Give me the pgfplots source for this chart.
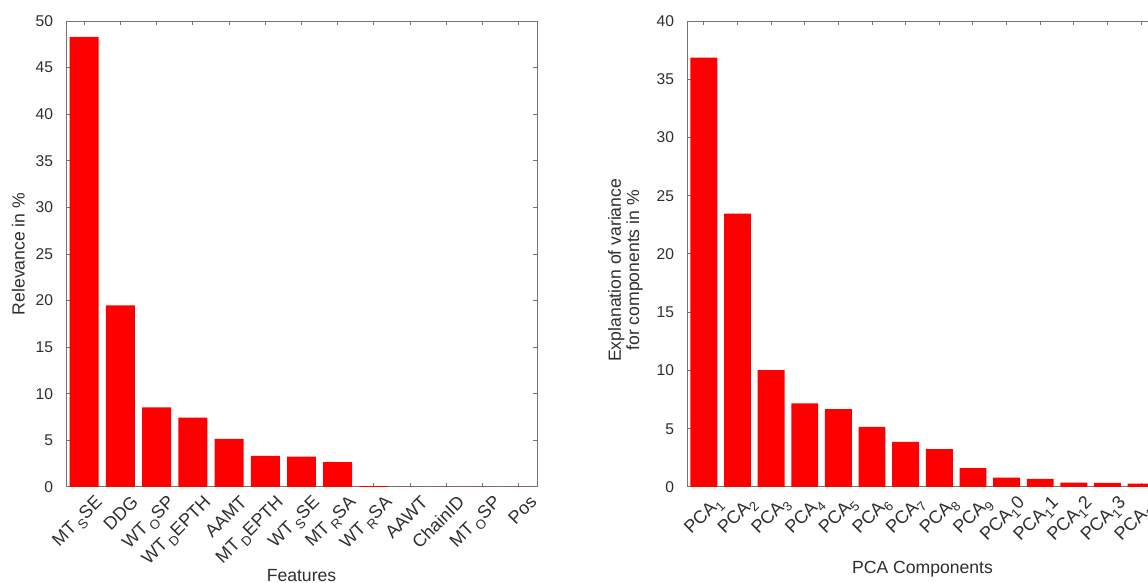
\documentclass[border=0pt]{standalone}
\usepackage{fontspec}
\setmainfont{Liberation Sans}
\usepackage{pgfplots}
\pgfplotsset{compat=1.18}

\definecolor{axgray}{gray}{0.45}
\definecolor{txtgray}{gray}{0.18}
\newcommand{\lsb}[1]{\raisebox{-0.5ex}{\fontsize{6.6}{7}\selectfont #1}}
\newcommand{\sub}[1]{\,\lsb{#1}}

\pgfplotsset{
  myax/.style={
    scale only axis, width=235.5pt, height=233pt,
    ymin=0, xmin=0.5,
    ybar, bar width=0.8, bar shift=0pt,
    tick align=inside,
    xtick pos=both, ytick pos=both,
    xticklabel pos=lower, yticklabel pos=left,
    major tick length=2.2pt,
    axis line style={axgray, line width=0.5pt},
    every tick/.style={axgray, line width=0.5pt},
    tick label style={font=\fontsize{7.8}{9}\selectfont, text=txtgray},
    label style={font=\fontsize{8.8}{9.2}\selectfont, text=txtgray},
    yticklabel style={xshift=-3pt},
    xticklabel style={font=\fontsize{9}{10}\selectfont, xshift=5pt, yshift=-3.5pt, rotate=45, anchor=north east, inner sep=0pt},
    /pgf/number format/assume math mode=true,
  },
  mybar/.style={fill=red, draw=none},
}

\begin{document}
\begin{tikzpicture}
\begin{axis}[myax, at={(0,0)}, anchor=south west,
  xmax=13.5, ymax=50, ytick={0,5,...,50},
  xtick={1,...,13},
  xticklabels={MT\sub{S}SE, DDG, WT\sub{O}SP, WT\sub{D}EPTH, AAMT, MT\sub{D}EPTH, WT\sub{S}SE, MT\sub{R}SA, WT\sub{R}SA, AAWT, ChainID, MT\sub{O}SP, Pos},
  xlabel={Features}, ylabel={Relevance in \%},
  xlabel style={at={(axis description cs:0.5,-0.191)}, anchor=center},
  ylabel style={at={(axis description cs:-0.101,0.5)}, anchor=center},
]
\addplot[mybar] coordinates {(1,48.3) (2,19.5) (3,8.55) (4,7.44) (5,5.15) (6,3.33) (7,3.25) (8,2.68) (9,0.1) (10,0) (11,0) (12,0) (13,0)};
\end{axis}
\begin{axis}[myax, at={(310.5pt,0)}, anchor=south west,
  xmax=14.5, ymax=40, ytick={0,5,...,40},
  xtick={1,...,14},
  xticklabels={PCA\lsb{1}, PCA\lsb{2}, PCA\lsb{3}, PCA\lsb{4}, PCA\lsb{5}, PCA\lsb{6}, PCA\lsb{7}, PCA\lsb{8}, PCA\lsb{9}, PCA\lsb{1}0, PCA\lsb{1}1, PCA\lsb{1}2, PCA\lsb{1}3, PCA\lsb{1}4},
  xlabel={PCA Components}, ylabel={Explanation of variance\\for components in \%},
  xlabel style={at={(axis description cs:0.5,-0.176)}, anchor=center},
  ylabel style={at={(axis description cs:-0.1306,0.465)}, anchor=center, align=center},
]
\addplot[mybar] coordinates {(1,36.85) (2,23.46) (3,10.04) (4,7.17) (5,6.68) (6,5.16) (7,3.87) (8,3.24) (9,1.61) (10,0.81) (11,0.69) (12,0.38) (13,0.35) (14,0.29)};
\end{axis}
\pgfresetboundingbox
\useasboundingbox (-33pt,-48pt) rectangle (541pt,243.5pt);
\end{tikzpicture}
\end{document}
